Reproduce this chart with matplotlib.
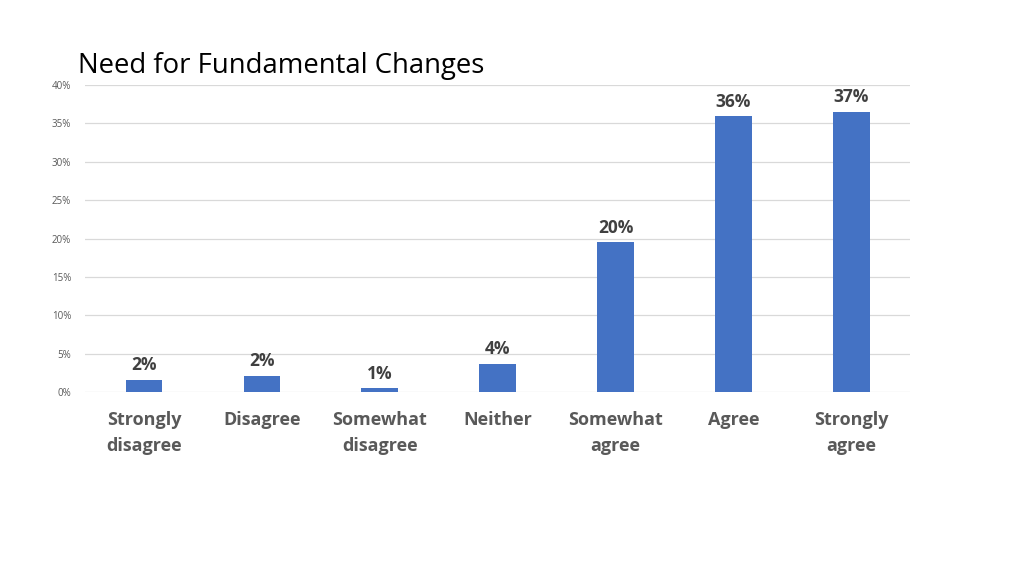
import numpy as np
import matplotlib.pyplot as plt
from matplotlib.ticker import PercentFormatter

# Data
categories = ['Strongly\ndisagree', 'Disagree', 'Somewhat\ndisagree', 'Neither',
              'Somewhat\nagree', 'Agree', 'Strongly\nagree']
values = [1.6, 2.1, 0.5, 3.7, 19.5, 35.9, 36.5]
labels = ['2%', '2%', '1%', '4%', '20%', '36%', '37%']
yticks = [0, 5, 10, 15, 20, 25, 30, 35, 40]

plt.rcParams['font.family'] = ['Open Sans', 'DejaVu Sans']

fig = plt.figure(figsize=(10.24, 5.76), dpi=100)
ax = fig.add_axes([0.083, 0.3194, 0.806, 0.533])

x = np.arange(len(categories))
bars = ax.bar(x, values, width=0.31, color='#4472C4', zorder=3)

for b, lab in zip(bars, labels):
    ax.annotate(lab, (b.get_x() + b.get_width() / 2, b.get_height()),
                xytext=(0, 4), textcoords='offset points', ha='center', va='bottom',
                fontsize=12.5, fontweight='bold', color='#404040')

ax.set_xlim(-0.5, len(categories) - 0.5)
ax.set_ylim(0, 40)
ax.set_yticks(yticks)
ax.yaxis.set_major_formatter(PercentFormatter(decimals=0))
ax.grid(axis='y', color='#d9d9d9', linewidth=0.9, zorder=0)
for s in ax.spines.values():
    s.set_visible(False)
ax.tick_params(axis='y', length=0, labelsize=7, labelcolor='#595959', pad=10)
ax.set_xticks(x)
ax.set_xticklabels(categories, fontsize=13, fontweight='bold', color='#595959',
                   linespacing=1.55)
ax.tick_params(axis='x', length=0, pad=14)

fig.text(0.076, 0.873, 'Need for Fundamental Changes', fontsize=19.8, color='black',
         ha='left', va='baseline')

fig.savefig('out.png', dpi=100, facecolor='white')
